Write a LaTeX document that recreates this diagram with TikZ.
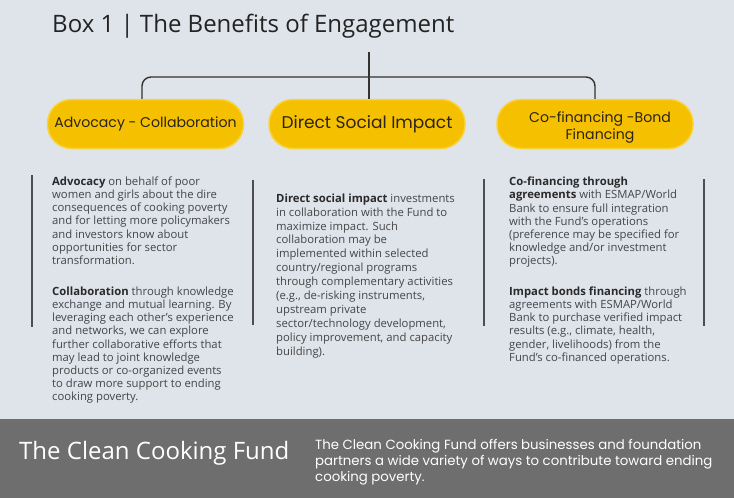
\documentclass[tikz,border=0pt]{standalone}
\usepackage{fontspec}
\setmainfont{Open Sans}
\newfontfamily\pillfont{Poppins}
\definecolor{bg}{HTML}{DFE3EA}
\definecolor{band}{HTML}{6E6E6E}
\definecolor{pill}{HTML}{F5C000}
\definecolor{pillborder}{HTML}{F8D33A}
\definecolor{pilltext}{HTML}{2D2416}
\definecolor{bodytext}{HTML}{454545}
\definecolor{boldtext}{HTML}{2A2A2A}
\definecolor{titlec}{HTML}{232323}
\definecolor{linec}{HTML}{333333}
\definecolor{barc}{HTML}{4D4D55}
\newcommand\bt[1]{{\color{boldtext}\bfseries #1}}
\newcommand\parafont{\fontsize{11.3}{13.2}\selectfont}
\newcommand\parafontb{\fontsize{11.3}{13.9}\selectfont}
\begin{document}
\begin{tikzpicture}[x=1pt,y=-1pt,
  pillbox/.style={draw=pillborder, line width=1.5pt, fill=pill, rounded corners=24pt,
    minimum width=196pt, minimum height=49pt, inner sep=0pt, align=center,
    text=pilltext, font=\pillfont\fontsize{14.1}{17}\selectfont},
  para/.style={anchor=base west, inner sep=0pt, text=bodytext},
  bar/.style={draw=barc, line width=2pt},
  bracket/.style={draw=linec, line width=1.4pt, rounded corners=9pt}]
\fill[bg] (0,0) rectangle (734,498);
\useasboundingbox (0,0) rectangle (734,498);
\fill[band] (0,419) rectangle (734,498);

\node[anchor=base west, inner sep=0pt, text=titlec, font=\fontsize{24}{28}\selectfont] (title) at (52,32) {Box 1 | The Benefits of Engagement};

\node[pillbox] (p1) at (145.5,124) {Advocacy - Collaboration};
\node[pillbox, font=\pillfont\fontsize{17}{20}\selectfont] (p2) at (367,124) {Direct Social Impact};
\node[pillbox] (p3) at (595,124) {\rule{0pt}{18.5pt}\hspace*{10pt}Co-financing -Bond\\\hspace*{10pt}Financing};

\coordinate (top) at (369,52);
\coordinate (junc) at (369,77);
\draw[bracket] ([xshift=-3.5pt]p1.north) |- (junc) -| (p3.north);
\draw[bracket] (top) -- ([xshift=2pt]p2.north);

\draw[bar] (32,175) -- (32,327);
\draw[bar] (253,180) -- (253,325);
\draw[bar] (484,179) -- (484,326);
\draw[bar] (704,179) -- (704,326);

\node[para] (t1a) at (52,176.7) {\parbox[t]{240pt}{\parafont\raggedright
\bt{Advocacy} on behalf of poor\\
women and girls about the dire\\
consequences of cooking poverty\\
and for letting more policymakers\\
and investors know about\\
opportunities for sector\\
transformation.}};
\node[para] (t1b) at (52,286.7) {\parbox[t]{240pt}{\parafont\raggedright
\bt{Collaboration} through knowledge\\
exchange and mutual learning. By\\
leveraging each other’s experience\\
and networks, we can explore\\
further collaborative efforts that\\
may lead to joint knowledge\\
products or co-organized events\\
to draw more support to ending\\
cooking poverty.}};

\node[para] (t2) at (276,193.7) {\parbox[t]{240pt}{\parafontb\raggedright
\bt{Direct social impact} investments\\
in collaboration with the Fund to\\
maximize impact. Such\\
collaboration may be\\
implemented within selected\\
country/regional programs\\
through complementary activities\\
(e.g., de-risking instruments,\\
upstream private\\
sector/technology development,\\
policy improvement, and capacity\\
building).}};

\node[para] (t3a) at (509,177) {\parbox[t]{240pt}{\parafont\raggedright
\bt{Co-financing through}\\
\bt{agreements} with ESMAP/World\\
Bank to ensure full integration\\
with the Fund’s operations\\
(preference may be specified for\\
knowledge and/or investment\\
projects).}};
\node[para] (t3b) at (509,286.7) {\parbox[t]{240pt}{\parafont\raggedright
\bt{Impact bonds financing} through\\
agreements with ESMAP/World\\
Bank to purchase verified impact\\
results (e.g., climate, health,\\
gender, livelihoods) from the\\
Fund’s co-financed operations.}};

\node[anchor=base west, inner sep=0pt, text=white, font=\fontsize{24}{28}\selectfont] (cf) at (19,459) {The Clean Cooking Fund};
\node[anchor=base west, inner sep=0pt, text=white] (cfd) at (315,449) {\parbox[t]{420pt}{\pillfont\fontsize{13.3}{16}\selectfont\raggedright
The Clean Cooking Fund offers businesses and foundation\\
partners a wide variety of ways to contribute toward ending\\
cooking poverty.}};
\end{tikzpicture}
\end{document}
